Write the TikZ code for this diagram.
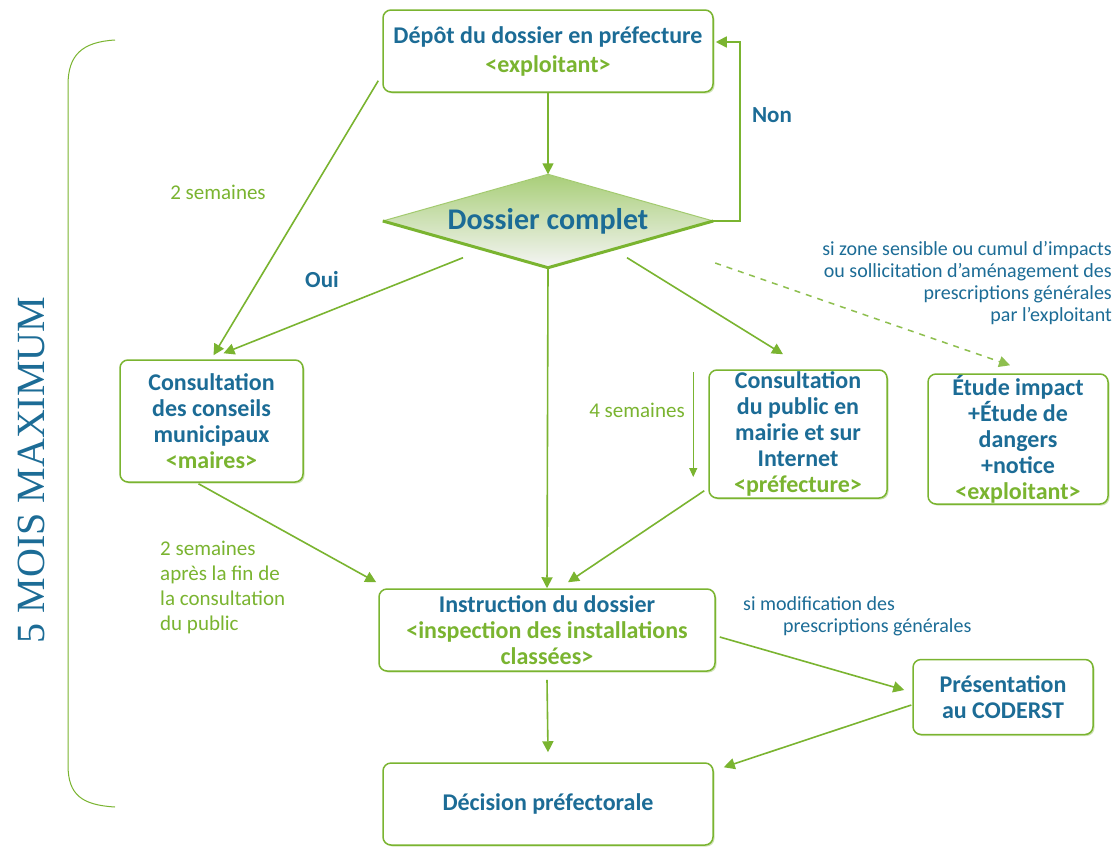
\documentclass[tikz,border=0pt]{standalone}
\usepackage{fontspec}
\setmainfont{Carlito}
\newfontfamily\moisfont{Liberation Serif}
\usetikzlibrary{shapes.geometric,arrows.meta,calc,shadows}
\definecolor{bl}{RGB}{28,108,150}
\definecolor{gr}{RGB}{122,180,48}
\begin{document}
\begin{tikzpicture}[x=1pt,y=-1pt,
  box/.style={draw=gr, line width=1.5pt, rounded corners=8pt, fill=white, align=center,
    font=\fontsize{24}{26}\selectfont\bfseries, text=bl, inner sep=0pt,
    drop shadow={shadow xshift=1.5pt, shadow yshift=-1.5pt, fill=gr, opacity=0.35}},
  arr/.style={draw=gr, line width=1.6pt, -{Triangle[width=11pt,length=11pt]}},
  glab/.style={text=gr, font=\fontsize{21}{25}\selectfont, align=left, inner sep=0pt},
  blab/.style={text=bl, font=\fontsize{20}{22}\selectfont, inner sep=0pt},
  bbold/.style={text=bl, font=\fontsize{23}{26}\selectfont\bfseries, inner sep=0pt}]
\useasboundingbox[fill=white] (0,0) rectangle (1118,846);

% brace and title
\draw[gr, line width=1pt] (115,40) .. controls (82,42) and (68,55) .. (68,85) -- (68,765) .. controls (68,795) and (82,805) .. (115,807);
\node[rotate=90, text=bl, font=\moisfont\fontsize{40}{44}\selectfont] (mois) at (31,470) {5 MOIS MAXIMUM};

% nodes
\node[box, minimum width=330, minimum height=82] (dep) at (548,51) {Dépôt du dossier en préfecture\\[3pt]\textcolor{gr}{<exploitant>}};
\node[diamond, shape aspect=3.5, minimum width=330, minimum height=93, inner sep=0pt, draw=none,
  top color=gr!65, middle color=gr!12, bottom color=black!4] (dc) at (548,221) {\makebox[0pt]{\phantom{D}}};
\node[text=bl, font=\fontsize{30}{32}\selectfont\bfseries, inner sep=0pt] (dct) at (dc) {Dossier complet};
\draw[gr!70, line width=1pt] (dc.west) -- (dc.north) -- (dc.east);
\draw[gr, line width=3pt, line join=round] (dc.west) -- (dc.south) -- (dc.east);

\node[box, minimum width=183, minimum height=122] (mun) at (211.5,421) {Consultation\\des conseils\\municipaux\\\textcolor{gr}{<maires>}};
\node[box, minimum width=178, minimum height=128] (pub) at (798,434) {Consultation\\du public en\\mairie et sur\\Internet\\\textcolor{gr}{<préfecture>}};
\node[box, minimum width=180, minimum height=130] (etu) at (1018,439) {Étude impact\\+Étude de\\dangers\\+notice\\\textcolor{gr}{<exploitant>}};
\node[box, minimum width=336, minimum height=82] (ins) at (547,630) {Instruction du dossier\\\textcolor{gr}{<inspection des installations}\\\textcolor{gr}{classées>}};
\node[box, minimum width=180, minimum height=75] (pre) at (1003,697) {Présentation\\au CODERST};
\node[box, minimum width=330, minimum height=82] (dec) at (548,804) {Décision préfectorale};

% connectors
\draw[arr] (dep.south) -- (dc.north);
\draw[arr] (dc.east) -- ($(dc.east)+(27,0)$) |- ($(dep.east)+(2,-9)$);
\node[bbold] (non) at (772,115) {Non};

\draw[arr] ($(dep.south west)+(-4,-12)$) -- ($(mun.north)+(2,-4)$);
\node[glab] (l2s) at (218,192) {2 semaines};

\draw[arr] ($(dc.south)+(-85,-10)$) -- ($(mun.north)+(12,-6)$);
\node[bbold] (oui) at (322,280) {Oui};

\draw[arr] (dc.south) -- (ins.north);
\draw[arr] ($(dc.south)+(79,-10)$) -- ($(pub.north)+(-15,-15)$);

\draw[draw=gr, line width=1pt, -{Triangle[width=8pt,length=9pt]}] ($(pub.west)+(-15,-62)$) -- ($(pub.west)+(-15,43)$);
\node[glab] (l4s) at (637,410) {4 semaines};

\draw[arr] ($(pub.south west)+(-4,-8)$) -- ($(ins.north)+(21,-6)$);
\draw[arr] ($(mun.south)+(-13,1)$) -- ($(ins.north west)+(-2,-6)$);
\node[glab, anchor=north west] (l2a) at (160,541) {2 semaines\\après la fin de\\la consultation\\du public};

\draw[draw=gr!85, line width=1.5pt, dashed, dash pattern=on 6pt off 6pt, -{Triangle[width=11pt,length=11pt]}] ($(dc.east)+(2,42)$) -- ($(etu.north)+(-8,-8)$);
\node[blab, anchor=north east, align=right] (lzone) at (1112,241) {si zone sensible ou cumul d'impacts\\ou sollicitation d'aménagement des\\prescriptions générales\\par l'exploitant};

\draw[arr] ($(ins.east)+(4,7)$) -- ($(pre.west)+(-8,-7)$);
\node[blab, anchor=north west, align=left] (lmod) at (743,596) {si modification des\\\hspace*{40pt}prescriptions générales};
\draw[arr] ($(pre.west)+(-1,8)$) -- ($(dec.north east)+(10,5)$);
\draw[arr] ($(ins.south)+(0,8)$) -- ($(dec.north)+(0,-10)$);
\end{tikzpicture}
\end{document}
